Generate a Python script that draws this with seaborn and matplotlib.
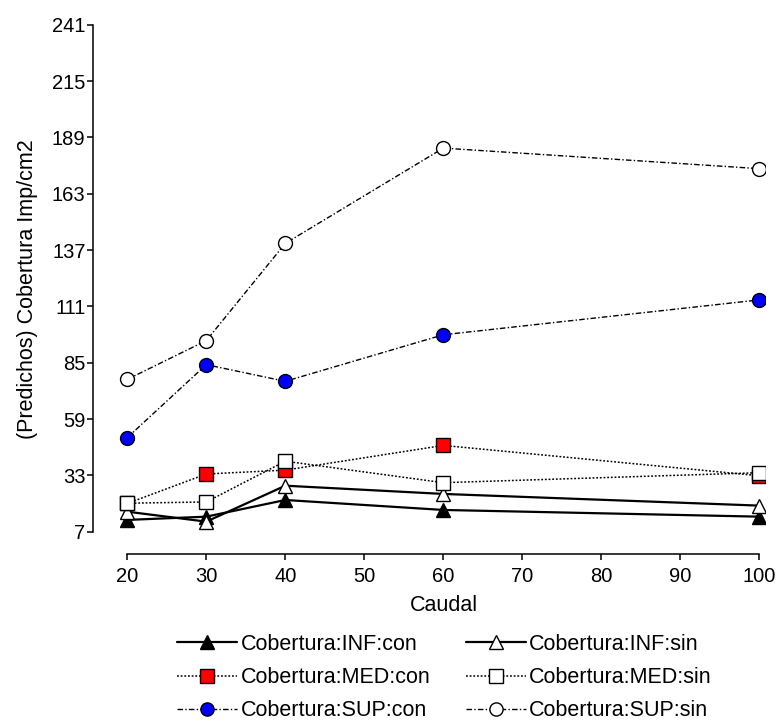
import matplotlib
matplotlib.use("Agg")
import matplotlib.pyplot as plt
import seaborn as sns
import pandas as pd

sns.set_theme(style="white")
plt.rcParams["font.family"] = ["Liberation Sans", "DejaVu Sans"]
plt.rcParams["text.color"] = "black"
plt.rcParams["axes.labelcolor"] = "black"

# Caudal levels and predicted coverage per group
caudal = [20, 30, 40, 60, 100]
inf_con = [12.4, 13.9, 21.6, 17.0, 13.9]
inf_sin = [16.2, 11.6, 28.2, 24.4, 19.0]
med_con = [20.0, 33.6, 35.4, 46.8, 32.8]
med_sin = [20.1, 20.7, 39.5, 29.6, 34.2]
sup_con = [50.4, 84.1, 76.4, 97.9, 114.0]
sup_sin = [77.3, 95.2, 140.1, 184.1, 174.6]

series_names = ["Cobertura:INF:con", "Cobertura:INF:sin",
                "Cobertura:MED:con", "Cobertura:MED:sin",
                "Cobertura:SUP:con", "Cobertura:SUP:sin"]
series_values = [inf_con, inf_sin, med_con, med_sin, sup_con, sup_sin]

yticks = [7, 33, 59, 85, 111, 137, 163, 189, 215, 241]
xticks = [20, 30, 40, 50, 60, 70, 80, 90, 100]

rows = []
for name, vals in zip(series_names, series_values):
    for c, v in zip(caudal, vals):
        rows.append({"Caudal": c, "valor": v, "grupo": name})
df = pd.DataFrame(rows)

dotted = (0, (1.2, 1.2))
dashdot = (0, (4, 1.6, 1, 1.6))
styles = {
    "Cobertura:INF:con": dict(marker="^", mfc="black", ls="-", lw=1.6),
    "Cobertura:INF:sin": dict(marker="^", mfc="white", ls="-", lw=1.6),
    "Cobertura:MED:con": dict(marker="s", mfc="#ff0000", ls=dotted, lw=1.1),
    "Cobertura:MED:sin": dict(marker="s", mfc="white", ls=dotted, lw=1.1),
    "Cobertura:SUP:con": dict(marker="o", mfc="#0000ff", ls=dashdot, lw=1.0),
    "Cobertura:SUP:sin": dict(marker="o", mfc="white", ls=dashdot, lw=1.0),
}

fig = plt.figure(figsize=(7.79, 7.24), dpi=100)
ax = fig.add_axes([93.3 / 779, 170 / 724, 672 / 779, 530.2 / 724])

for i, name in enumerate(series_names):
    st = styles[name]
    sub = df[df["grupo"] == name]
    sns.lineplot(data=sub, x="Caudal", y="valor", ax=ax, color="black",
                 linestyle=st["ls"], linewidth=st["lw"], marker=st["marker"],
                 markersize=10, markerfacecolor=st["mfc"],
                 markeredgecolor="black", markeredgewidth=1.0,
                 label=name, zorder=3 + i, errorbar=None)

ax.set_xlim(15.7, 100.75)
ax.set_ylim(-3.34, 241.5)
ax.set_xticks(xticks)
ax.set_yticks(yticks)
ax.set_xticklabels([str(t) for t in xticks])
ax.set_yticklabels([str(t) for t in yticks])
for s in ["top", "right"]:
    ax.spines[s].set_visible(False)
ax.spines["left"].set_bounds(7, 241)
ax.spines["bottom"].set_bounds(20, 100)
for s in ["left", "bottom"]:
    ax.spines[s].set_color("black")
    ax.spines[s].set_linewidth(1.1)
ax.tick_params(axis="both", direction="out", length=4.1, width=1.1,
               color="black", labelsize=14.5, labelcolor="black")
ax.tick_params(axis="x", pad=5.5)
ax.tick_params(axis="y", pad=1.5)
ax.tick_params(axis="both", bottom=True, left=True)
ax.set_xlabel("Caudal", fontsize=15.5, color="black")
ax.xaxis.set_label_coords((443.5 - 93.3) / 672, -(606 - 554 - 11) / 530.2,
                          transform=ax.transAxes)
ax.xaxis.label.set_va("top")
ax.set_ylabel("(Predichos) Cobertura Imp/cm2", fontsize=15.5, color="black", labelpad=10)

handles, labels = ax.get_legend_handles_labels()
ax.get_legend().remove()
order = [0, 2, 4, 1, 3, 5]
leg = fig.legend([handles[i] for i in order], [labels[i] for i in order],
                 loc="upper left", bbox_to_anchor=(177 / 779, 1 - 634 / 724),
                 ncol=2, frameon=False, fontsize=15.5, handlelength=2.8,
                 handletextpad=0.15, columnspacing=1.65, labelspacing=0.56,
                 borderpad=0, borderaxespad=0, markerscale=0.95)
for t in leg.get_texts():
    t.set_color("black")

fig.savefig("out.png", dpi=100)
